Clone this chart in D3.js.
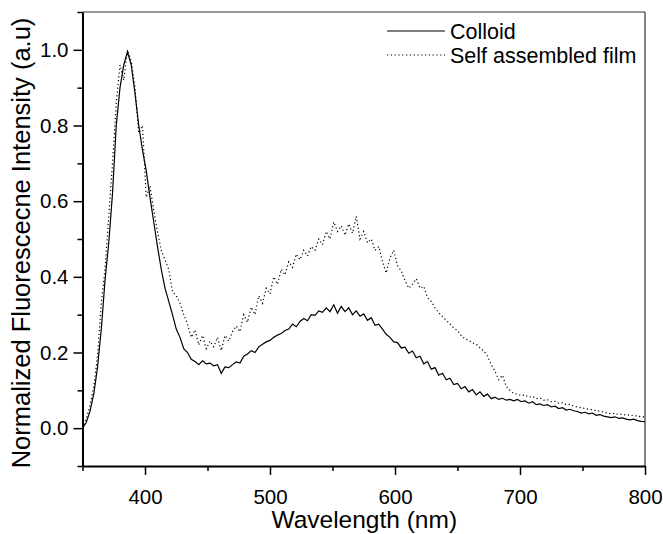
<!DOCTYPE html>
<html>
<head>
<meta charset="utf-8">
<script src="https://cdn.jsdelivr.net/npm/d3@7"></script>
<style>
  body { margin: 0; background: #fff; }
  text { font-family: "Liberation Sans", Arial, sans-serif; fill: #000; }
</style>
</head>
<body>
<div id="chart-area"></div>
<script>
// wavelength grid (nm), 3 nm step
var wavelengths = d3.range(350, 801, 3);

// Colloid
var colloid = [
  0.000, 0.015, 0.045, 0.090, 0.160, 0.260, 0.390, 0.490, 0.620, 0.800,
  0.900, 0.960, 0.995, 0.960, 0.885, 0.800, 0.735, 0.680, 0.610, 0.545,
  0.480, 0.420, 0.370, 0.335, 0.300, 0.262, 0.240, 0.210, 0.200, 0.182,
  0.176, 0.168, 0.178, 0.170, 0.172, 0.165, 0.168, 0.145, 0.162, 0.160,
  0.168, 0.175, 0.172, 0.190, 0.196, 0.205, 0.200, 0.215, 0.222, 0.228,
  0.232, 0.240, 0.246, 0.250, 0.258, 0.262, 0.275, 0.268, 0.282, 0.290,
  0.284, 0.300, 0.298, 0.310, 0.306, 0.318, 0.308, 0.326, 0.304, 0.322,
  0.308, 0.318, 0.300, 0.310, 0.296, 0.302, 0.285, 0.292, 0.272, 0.275,
  0.262, 0.248, 0.240, 0.228, 0.226, 0.212, 0.214, 0.198, 0.204, 0.186,
  0.190, 0.170, 0.176, 0.156, 0.160, 0.140, 0.145, 0.128, 0.132, 0.115,
  0.118, 0.104, 0.110, 0.096, 0.102, 0.088, 0.096, 0.084, 0.090, 0.078,
  0.082, 0.076, 0.079, 0.074, 0.076, 0.072, 0.076, 0.070, 0.072, 0.066,
  0.070, 0.062, 0.064, 0.060, 0.062, 0.056, 0.058, 0.052, 0.054, 0.048,
  0.050, 0.046, 0.044, 0.040, 0.042, 0.038, 0.040, 0.034, 0.036, 0.032,
  0.030, 0.028, 0.030, 0.026, 0.027, 0.024, 0.022, 0.024, 0.020, 0.018,
  0.017
];

// Self assembled film
var film = [
  0.000, 0.025, 0.060, 0.110, 0.190, 0.330, 0.420, 0.560, 0.700, 0.860,
  0.960, 0.920, 1.000, 0.970, 0.900, 0.780, 0.800, 0.610, 0.640, 0.575,
  0.520, 0.470, 0.445, 0.420, 0.360, 0.350, 0.330, 0.300, 0.275, 0.240,
  0.260, 0.220, 0.245, 0.210, 0.230, 0.215, 0.240, 0.205, 0.245, 0.230,
  0.255, 0.270, 0.255, 0.300, 0.280, 0.320, 0.300, 0.350, 0.330, 0.370,
  0.355, 0.400, 0.380, 0.420, 0.405, 0.440, 0.425, 0.460, 0.445, 0.470,
  0.455, 0.480, 0.470, 0.500, 0.485, 0.520, 0.500, 0.545, 0.520, 0.535,
  0.510, 0.540, 0.515, 0.560, 0.500, 0.520, 0.490, 0.500, 0.470, 0.480,
  0.440, 0.410, 0.450, 0.470, 0.430, 0.415, 0.390, 0.370, 0.380, 0.395,
  0.370, 0.375, 0.345, 0.335, 0.318, 0.305, 0.295, 0.285, 0.275, 0.265,
  0.258, 0.245, 0.236, 0.232, 0.225, 0.222, 0.212, 0.205, 0.190, 0.168,
  0.150, 0.128, 0.140, 0.110, 0.100, 0.092, 0.090, 0.086, 0.088, 0.082,
  0.084, 0.078, 0.080, 0.074, 0.075, 0.070, 0.071, 0.066, 0.067, 0.062,
  0.063, 0.058, 0.056, 0.054, 0.052, 0.050, 0.049, 0.046, 0.045, 0.042,
  0.040, 0.038, 0.039, 0.036, 0.037, 0.034, 0.035, 0.033, 0.032, 0.030,
  0.030
];

var seriesNames = ["Colloid", "Self assembled film"];
var xMajor = [400, 500, 600, 700, 800];
var xMinor = [350, 450, 550, 650, 750];
var yMajor = [0.0, 0.2, 0.4, 0.6, 0.8, 1.0];
var yMinor = [-0.1, 0.1, 0.3, 0.5, 0.7, 0.9, 1.1];

var W = 663, H = 534;
var mLeft = 82.5, mRight = 645, mTop = 12, mBottom = 466;

var svg = d3.select("#chart-area").append("svg").attr("width", W).attr("height", H);

var x = d3.scaleLinear().domain([350, 800]).range([mLeft, mRight]);
var y = d3.scaleLinear().domain([-0.1, 1.1]).range([mBottom, mTop]);

// frame top / right
svg.append("line").attr("x1", mLeft).attr("x2", mRight).attr("y1", mTop).attr("y2", mTop)
  .attr("stroke", "#333").attr("stroke-width", 1.2);
svg.append("line").attr("x1", mRight).attr("x2", mRight).attr("y1", mTop).attr("y2", mBottom)
  .attr("stroke", "#333").attr("stroke-width", 1.2);

// curves
var line = d3.line()
  .x((d) => { return x(d[0]); })
  .y((d) => { return y(d[1]); });

svg.append("path")
  .datum(wavelengths.map((w, i) => { return [w, colloid[i]]; }))
  .attr("d", line)
  .attr("fill", "none").attr("stroke", "#000").attr("stroke-width", 1.2);

svg.append("path")
  .datum(wavelengths.map((w, i) => { return [w, film[i]]; }))
  .attr("d", line)
  .attr("fill", "none").attr("stroke", "#000").attr("stroke-width", 1.2)
  .attr("stroke-dasharray", "1.2,2.6");

// x axis
svg.append("g").attr("transform", "translate(0," + mBottom + ")")
  .call(d3.axisBottom(x).tickValues(xMajor).tickSize(9).tickSizeOuter(0).tickPadding(14).tickFormat(d3.format("d")));
svg.append("g").attr("transform", "translate(0," + mBottom + ")")
  .call(d3.axisBottom(x).tickValues(xMinor).tickSize(5).tickFormat(""))
  .select(".domain").remove();

// y axis
svg.append("g").attr("transform", "translate(" + mLeft + ",0)")
  .call(d3.axisLeft(y).tickValues(yMajor).tickSize(9).tickSizeOuter(0).tickPadding(5).tickFormat(d3.format(".1f")));
svg.append("g").attr("transform", "translate(" + mLeft + ",0)")
  .call(d3.axisLeft(y).tickValues(yMinor).tickSize(5).tickFormat(""))
  .select(".domain").remove();

svg.selectAll(".domain").attr("stroke", "#000").attr("stroke-width", 2);
svg.selectAll(".tick line").attr("stroke", "#000").attr("stroke-width", 1.5);
svg.selectAll(".tick text")
  .style("font-family", "'Liberation Sans', Arial, sans-serif")
  .style("font-size", "20.5px").attr("fill", "#000");

// axis titles
svg.append("text")
  .attr("x", (mLeft + mRight) / 2 + 0.5).attr("y", 528)
  .attr("text-anchor", "middle")
  .style("font-size", "24.5px")
  .text("Wavelength (nm)");

svg.append("text")
  .attr("transform", "translate(30,243) rotate(-90)")
  .attr("text-anchor", "middle")
  .style("font-size", "25.5px")
  .text("Normalized Fluorescecne Intensity (a.u)");

// legend
var legY = [31, 55];
seriesNames.forEach((name, i) => {
  var l = svg.append("line")
    .attr("x1", 387).attr("x2", 445).attr("y1", legY[i]).attr("y2", legY[i])
    .attr("stroke", "#000").attr("stroke-width", 1.2);
  if (i == 1) l.attr("stroke-dasharray", "1.2,2.6");
  svg.append("text")
    .attr("x", 450).attr("y", legY[i] + 7.5)
    .style("font-size", "21.5px")
    .text(name);
});
</script>
</body>
</html>
